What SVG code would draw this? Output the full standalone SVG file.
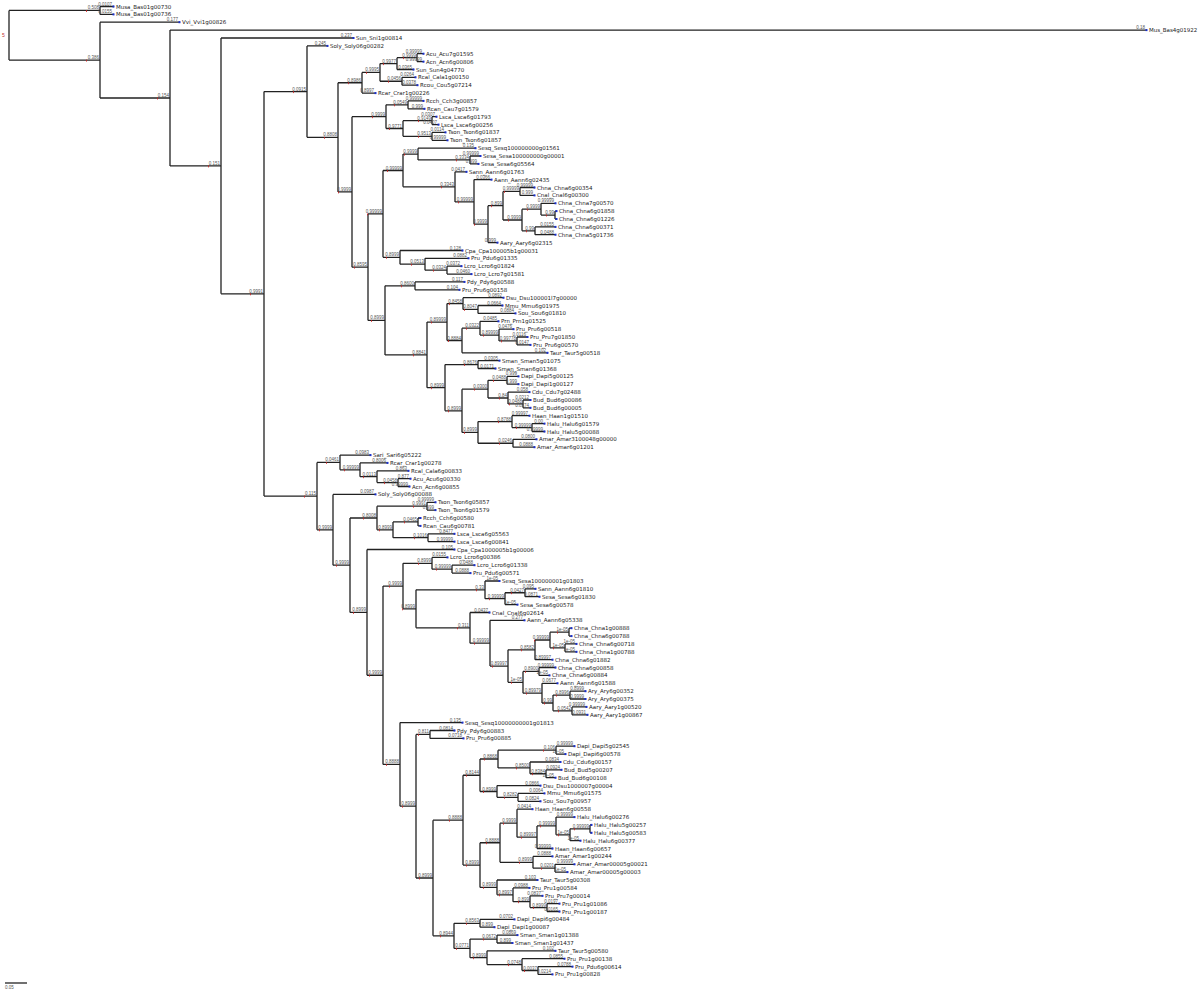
<svg xmlns="http://www.w3.org/2000/svg" width="1200" height="992" viewBox="0 0 1200 992">
<style>
.br{stroke:#222;stroke-width:1.3;fill:none}
.lf{font-family:"DejaVu Sans",sans-serif;font-size:5.5px;fill:#222}
.bl{font-family:"Liberation Sans",sans-serif;font-size:4.5px;fill:#555;text-anchor:end}
.mk{fill:#1a30d0}
.rt{fill:#d02020}
</style>
<rect width="1200" height="992" fill="#fff"/>
<g id="connectors" class="br">
<path d="M9 10.45V60.1"/>
<path d="M9 10.45H100M100 6.5V14.4M100 6.5H114M100 14.4H114"/>
<path d="M9 60.1H100M100 22.2V98M100 22.2H180"/>
<path d="M100 98H170M170 30.1V165.9M170 30.1H1147"/>
<path d="M170 165.9H221M221 38V293.85M221 38H354"/>
<path d="M221 293.85H264M264 91.6V496.1"/>
<path d="M264 91.6H307M307 45.9V137.3M307 45.9H328"/>
<path d="M307 137.3H338M338 82.75V191.9"/>
<path d="M338 82.75H362M362 72.4V93.1M362 93.1H376"/>
<path d="M362 72.4H380M380 63.6V81.25"/>
<path d="M380 63.6H397M397 57.65V69.5M397 69.5H414"/>
<path d="M397 57.65H417M417 53.7V61.6M417 53.7H424M417 61.6H424"/>
<path d="M380 81.25H402M402 77.3V85.2M402 77.3H416M402 85.2H418"/>
<path d="M338 191.9H352M352 116.7V267.15"/>
<path d="M352 116.7H386M386 104.85V128.5"/>
<path d="M386 104.85H408M408 100.9V108.8M408 100.9H424M408 108.8H425"/>
<path d="M386 128.5H403M403 120.65V136.35"/>
<path d="M403 120.65H432M432 116.7V124.6M432 116.7H437M432 124.6H439"/>
<path d="M403 136.35H432M432 132.4V140.3M432 132.4H446M432 140.3H448"/>
<path d="M352 267.15H368M368 213.9V320.4"/>
<path d="M368 213.9H383M383 170.5V257.35"/>
<path d="M383 170.5H403M403 154.1V186.85"/>
<path d="M403 154.1H418M418 148.2V159.95M418 148.2H476"/>
<path d="M418 159.95H470M470 156V163.9M470 156H481M470 163.9H479"/>
<path d="M403 186.85H455M455 171.8V201.9M455 171.8H467"/>
<path d="M455 201.9H474M474 179.6V224.2M474 179.6H492"/>
<path d="M474 224.2H488M488 205.7V242.6M488 242.6H498"/>
<path d="M488 205.7H503M503 191.45V220"/>
<path d="M503 191.45H520M520 187.5V195.4M520 187.5H535M520 195.4H535"/>
<path d="M503 220H522M522 209.2V230.8"/>
<path d="M522 209.2H541M541 203.3V215.05M541 203.3H556"/>
<path d="M541 215.05H555M555 211.1V219M555 211.1H557M555 219H557"/>
<path d="M522 230.8H535M535 226.9V234.7M535 226.9H556M535 234.7H556"/>
<path d="M383 257.35H400M400 250.5V264.2M400 250.5H463"/>
<path d="M400 264.2H425M425 258.3V270.15M425 258.3H469"/>
<path d="M425 270.15H447M447 266.2V274.1M447 266.2H462M447 274.1H472"/>
<path d="M368 320.4H385M385 285.85V354.9"/>
<path d="M385 285.85H415M415 281.9V289.8M415 281.9H465M415 289.8H460"/>
<path d="M385 354.9H427M427 322.05V387.7"/>
<path d="M427 322.05H447M447 303.6V340.5"/>
<path d="M447 303.6H463M463 297.7V309.45M463 297.7H504"/>
<path d="M463 309.45H478M478 305.5V313.4M478 305.5H503M478 313.4H516"/>
<path d="M447 340.5H462M462 328.2V352.8M462 352.8H548"/>
<path d="M462 328.2H480M480 321.3V335.1M480 321.3H499"/>
<path d="M480 335.1H499M499 329.2V340.95M499 329.2H514"/>
<path d="M499 340.95H517M517 337V344.9M517 337H528M517 344.9H531"/>
<path d="M427 387.7H445M445 364.55V410.8"/>
<path d="M445 364.55H478M478 360.6V368.5M478 360.6H500M478 368.5H496"/>
<path d="M445 410.8H462M462 389.15V432.4"/>
<path d="M462 389.15H488M488 380.3V398"/>
<path d="M488 380.3H507M507 376.4V384.2M507 376.4H519M507 384.2H519"/>
<path d="M488 398H508M508 392.1V403.9M508 392.1H530"/>
<path d="M508 403.9H523M523 400V407.8M523 400H531M523 407.8H531"/>
<path d="M462 432.4H478M478 421.6V443.25"/>
<path d="M478 421.6H512M512 415.7V427.55M512 415.7H530"/>
<path d="M512 427.55H532M532 423.6V431.5M532 423.6H545M532 431.5H545"/>
<path d="M478 443.25H513M513 439.3V447.2M513 439.3H537M513 447.2H535"/>
<path d="M264 496.1H317M317 462.45V529.8"/>
<path d="M317 462.45H340M340 455.1V469.8M340 455.1H371"/>
<path d="M340 469.8H360M360 462.9V476.7M360 462.9H388"/>
<path d="M360 476.7H377M377 470.8V482.6M377 470.8H409"/>
<path d="M377 482.6H398M398 478.7V486.5M398 478.7H411M398 486.5H410"/>
<path d="M317 529.8H333M333 494.4V565.2M333 494.4H376"/>
<path d="M333 565.2H350M350 518V612.4"/>
<path d="M350 518H377M377 506.2V529.8"/>
<path d="M377 506.2H427M427 502.3V510.1M427 502.3H436M427 510.1H436"/>
<path d="M377 529.8H393M393 521.95V537.7"/>
<path d="M393 521.95H418M418 518V525.9M418 518H421M418 525.9H421"/>
<path d="M393 537.7H428M428 533.8V541.6M428 533.8H455M428 541.6H455"/>
<path d="M350 612.4H367M367 549.5V675.25M367 549.5H455"/>
<path d="M367 675.25H383M383 586.1V764.4"/>
<path d="M383 586.1H403M403 563.3V608.85"/>
<path d="M403 563.3H432M432 557.4V569.15M432 557.4H448"/>
<path d="M432 569.15H452M452 565.2V573.1M452 565.2H475M452 573.1H471"/>
<path d="M403 608.85H416M416 589.85V627.85"/>
<path d="M416 589.85H485M485 581V598.7M485 581H500"/>
<path d="M485 598.7H505M505 592.75V604.6M505 604.6H518"/>
<path d="M505 592.75H525M525 588.8V596.7M525 588.8H536M525 596.7H540"/>
<path d="M416 627.85H470M470 612.5V643.2M470 612.5H490"/>
<path d="M470 643.2H490M490 620.3V666.1M490 620.3H525"/>
<path d="M490 666.1H508M508 649.85V682.3"/>
<path d="M508 649.85H535M535 640V659.7M535 659.7H553"/>
<path d="M535 640H550M550 632.15V647.85"/>
<path d="M550 632.15H569M569 628.2V636.1M569 628.2H572M569 636.1H572"/>
<path d="M550 647.85H565M565 643.9V651.8M565 643.9H577M565 651.8H577"/>
<path d="M508 682.3H523M523 671.45V693.14"/>
<path d="M523 671.45H539M539 667.5V675.4M539 667.5H556M539 675.4H550"/>
<path d="M523 693.14H542M542 683.3V702.98M542 683.3H558"/>
<path d="M542 702.98H553M553 695.1V710.85"/>
<path d="M553 695.1H570M570 691.2V699M570 691.2H586M570 699H586"/>
<path d="M553 710.85H572M572 706.9V714.8M572 706.9H587M572 714.8H588"/>
<path d="M383 764.4H400M400 722.6V806.2M400 722.6H463"/>
<path d="M400 806.2H416M416 734.45V878"/>
<path d="M416 734.45H430M430 730.5V738.4M430 730.5H455M430 738.4H464"/>
<path d="M416 878H433M433 820.2V935.85"/>
<path d="M433 820.2H463M463 775.25V865.1"/>
<path d="M463 775.25H480M480 759V791.5"/>
<path d="M480 759H498M498 750.15V767.9"/>
<path d="M498 750.15H556M556 746.2V754.1M556 746.2H575M556 754.1H566"/>
<path d="M498 767.9H530M530 762V773.75M530 762H561"/>
<path d="M530 773.75H546M546 769.8V777.7M546 769.8H562M546 777.7H556"/>
<path d="M480 791.5H497M497 785.6V797.35M497 785.6H541"/>
<path d="M497 797.35H518M518 793.4V801.3M518 793.4H545M518 801.3H541"/>
<path d="M463 865.1H480M480 842.75V887.4"/>
<path d="M480 842.75H500M500 823.2V862.3"/>
<path d="M500 823.2H517M517 809.2V837.2M517 809.2H533"/>
<path d="M517 837.2H537M537 825.95V848.5M537 848.5H553"/>
<path d="M537 825.95H556M556 817.1V834.8M556 817.1H575"/>
<path d="M556 834.8H570M570 828.85V840.7M570 840.7H581"/>
<path d="M570 828.85H590M590 824.9V832.8M590 824.9H592M590 832.8H592"/>
<path d="M500 862.3H533M533 856.4V868.2M533 856.4H553"/>
<path d="M533 868.2H555M555 864.3V872.1M555 864.3H575M555 872.1H568"/>
<path d="M480 887.4H497M497 880V894.8M497 880H538"/>
<path d="M497 894.8H513M513 887.9V901.7M513 887.9H530"/>
<path d="M513 901.7H530M530 895.8V907.55M530 895.8H543"/>
<path d="M530 907.55H547M547 903.6V911.5M547 903.6H560M547 911.5H560"/>
<path d="M433 935.85H454M454 923.3V948.4"/>
<path d="M454 923.3H480M480 919.4V927.2M480 919.4H515M480 927.2H495"/>
<path d="M454 948.4H470M470 939.05V957.7"/>
<path d="M470 939.05H497M497 935.1V943M497 935.1H518M497 943H513"/>
<path d="M470 957.7H487M487 950.8V964.6M487 950.8H556"/>
<path d="M487 964.6H522M522 958.7V970.5M522 958.7H565"/>
<path d="M522 970.5H538M538 966.6V974.4M538 966.6H573M538 974.4H553"/>
<path d="M5 983H27"/>
</g>
<g id="internal">
<g id="root"><text x="2" y="37" style="font-family:'Liberation Sans',sans-serif;font-size:5px;fill:#c03030">5</text></g>
<g id="nA"><text class="bl" x="99" y="9.4">0.508</text><rect class="rt" x="86" y="10" width="0.8" height="2"/></g>
<g id="nB"><text class="bl" x="99" y="59.1">0.386</text><rect class="rt" x="86" y="59.6" width="0.8" height="2"/></g>
<g id="nC"><text class="bl" x="169" y="97">0.154</text><rect class="rt" x="157" y="97.5" width="0.8" height="2"/></g>
<g id="nD"><text class="bl" x="220" y="164.9">0.151</text><rect class="rt" x="208" y="165.4" width="0.8" height="2"/></g>
<g id="nE"><text class="bl" x="263" y="292.8">0.9991</text><rect class="rt" x="250" y="293.3" width="0.8" height="2"/></g>
<g id="nF"><text class="bl" x="306" y="90.6">0.0915</text><rect class="rt" x="293" y="91.1" width="0.8" height="2"/></g>
<g id="nF2"><text class="bl" x="337" y="136.3">0.8808</text><rect class="rt" x="324" y="136.8" width="0.8" height="2"/></g>
<g id="nF3"><text class="bl" x="361" y="81.7">0.8986</text><rect class="rt" x="348" y="82.2" width="0.8" height="2"/></g>
<g id="nF5"><text class="bl" x="379" y="71.4">0.9995</text><rect class="rt" x="366" y="71.9" width="0.8" height="2"/></g>
<g id="nF6"><text class="bl" x="396" y="62.6">0.9977</text><rect class="rt" x="383" y="63.1" width="0.8" height="2"/></g>
<g id="nF8"><text class="bl" x="416" y="56.6">0.9999</text><rect class="rt" x="403" y="57.1" width="0.8" height="2"/></g>
<g id="nF7"><text class="bl" x="401" y="80.2">0.0456</text><rect class="rt" x="388" y="80.7" width="0.8" height="2"/></g>
<g id="nF4"><text class="bl" x="351" y="190.9">0.9999</text><rect class="rt" x="338" y="191.4" width="0.8" height="2"/></g>
<g id="nF9"><text class="bl" x="385" y="115.7">0.9999</text><rect class="rt" x="372" y="116.2" width="0.8" height="2"/></g>
<g id="nF10"><text class="bl" x="407" y="103.8">0.0549</text><rect class="rt" x="394" y="104.3" width="0.8" height="2"/></g>
<g id="nF11"><text class="bl" x="402" y="127.5">0.9771</text><rect class="rt" x="389" y="128" width="0.8" height="2"/></g>
<g id="nF12"><text class="bl" x="431" y="119.6">0.9149</text><rect class="rt" x="418" y="120.1" width="0.8" height="2"/></g>
<g id="nF13"><text class="bl" x="431" y="135.3">0.9513</text><rect class="rt" x="418" y="135.8" width="0.8" height="2"/></g>
<g id="nF14"><text class="bl" x="367" y="266.1">0.8595</text><rect class="rt" x="354" y="266.6" width="0.8" height="2"/></g>
<g id="nF15"><text class="bl" x="382" y="212.9">0.99999</text><rect class="rt" x="367" y="213.4" width="0.8" height="2"/></g>
<g id="nF17"><text class="bl" x="402" y="169.5">0.99999</text><rect class="rt" x="387" y="170" width="0.8" height="2"/></g>
<g id="nF19"><text class="bl" x="417" y="153.1">0.9999</text><rect class="rt" x="404" y="153.6" width="0.8" height="2"/></g>
<g id="nF20"><text class="bl" x="469" y="158.9">0.3334</text><rect class="rt" x="456" y="159.4" width="0.8" height="2"/></g>
<g id="nF21"><text class="bl" x="454" y="185.8">0.3343</text><rect class="rt" x="441" y="186.3" width="0.8" height="2"/></g>
<g id="nF22"><text class="bl" x="473" y="200.9">0.99999</text><rect class="rt" x="458" y="201.4" width="0.8" height="2"/></g>
<g id="nF23"><text class="bl" x="487" y="223.2">0.9999</text><rect class="rt" x="474" y="223.7" width="0.8" height="2"/></g>
<g id="nF24"><text class="bl" x="502" y="204.7">0.899</text><rect class="rt" x="491" y="205.2" width="0.8" height="2"/></g>
<g id="nF25"><text class="bl" x="519" y="190.4">0.99999</text><rect class="rt" x="504" y="190.9" width="0.8" height="2"/></g>
<g id="nF26"><text class="bl" x="521" y="219">0.9999</text><rect class="rt" x="508" y="219.5" width="0.8" height="2"/></g>
<g id="nF27"><text class="bl" x="540" y="208.2">0.9999</text><rect class="rt" x="527" y="208.7" width="0.8" height="2"/></g>
<g id="nF29"><text class="bl" x="554" y="214">0.99</text><rect class="rt" x="546" y="214.5" width="0.8" height="2"/></g>
<g id="nF28"><text class="bl" x="534" y="229.8">0.99</text><rect class="rt" x="526" y="230.3" width="0.8" height="2"/></g>
<g id="nF18"><text class="bl" x="399" y="256.3">0.8999</text><rect class="rt" x="386" y="256.8" width="0.8" height="2"/></g>
<g id="nF30"><text class="bl" x="424" y="263.2">0.0513</text><rect class="rt" x="411" y="263.7" width="0.8" height="2"/></g>
<g id="nF30b"><text class="bl" x="446" y="269.1">0.0324</text><rect class="rt" x="433" y="269.6" width="0.8" height="2"/></g>
<g id="nF16"><text class="bl" x="384" y="319.4">0.8999</text><rect class="rt" x="371" y="319.9" width="0.8" height="2"/></g>
<g id="nF31"><text class="bl" x="414" y="284.8">0.8600</text><rect class="rt" x="401" y="285.3" width="0.8" height="2"/></g>
<g id="nF32"><text class="bl" x="426" y="353.9">0.8841</text><rect class="rt" x="413" y="354.4" width="0.8" height="2"/></g>
<g id="nF33"><text class="bl" x="446" y="321">0.89999</text><rect class="rt" x="431" y="321.5" width="0.8" height="2"/></g>
<g id="nF35"><text class="bl" x="462" y="302.6">0.8458</text><rect class="rt" x="449" y="303.1" width="0.8" height="2"/></g>
<g id="nF34"><text class="bl" x="477" y="308.4">0.8047</text><rect class="rt" x="464" y="308.9" width="0.8" height="2"/></g>
<g id="nF39"><text class="bl" x="461" y="339.5">0.8884</text><rect class="rt" x="448" y="340" width="0.8" height="2"/></g>
<g id="nF38"><text class="bl" x="479" y="327.2">0.0322</text><rect class="rt" x="466" y="327.7" width="0.8" height="2"/></g>
<g id="nF37"><text class="bl" x="498" y="334.1">0.89999</text><rect class="rt" x="483" y="334.6" width="0.8" height="2"/></g>
<g id="nF36"><text class="bl" x="516" y="339.9">0.99778</text><rect class="rt" x="501" y="340.4" width="0.8" height="2"/></g>
<g id="nF50"><text class="bl" x="444" y="386.7">0.8999</text><rect class="rt" x="431" y="387.2" width="0.8" height="2"/></g>
<g id="nF40"><text class="bl" x="477" y="363.5">0.8676</text><rect class="rt" x="464" y="364" width="0.8" height="2"/></g>
<g id="nF49"><text class="bl" x="461" y="409.8">0.8999</text><rect class="rt" x="448" y="410.3" width="0.8" height="2"/></g>
<g id="nF44"><text class="bl" x="487" y="388.1">0.0300</text><rect class="rt" x="474" y="388.6" width="0.8" height="2"/></g>
<g id="nF43"><text class="bl" x="506" y="379.3">0.0488</text><rect class="rt" x="493" y="379.8" width="0.8" height="2"/></g>
<g id="nF42"><text class="bl" x="507" y="397">0.84</text><rect class="rt" x="499" y="397.5" width="0.8" height="2"/></g>
<g id="nF41"><text class="bl" x="522" y="402.9">0.0488</text><rect class="rt" x="509" y="403.4" width="0.8" height="2"/></g>
<g id="nF48"><text class="bl" x="477" y="431.4">0.8999</text><rect class="rt" x="464" y="431.9" width="0.8" height="2"/></g>
<g id="nF46"><text class="bl" x="511" y="420.6">0.8788</text><rect class="rt" x="498" y="421.1" width="0.8" height="2"/></g>
<g id="nF45"><text class="bl" x="531" y="426.5">0.99999</text><rect class="rt" x="516" y="427" width="0.8" height="2"/></g>
<g id="nF47"><text class="bl" x="512" y="442.2">0.0246</text><rect class="rt" x="499" y="442.7" width="0.8" height="2"/></g>
<g id="nG"><text class="bl" x="316" y="495.1">0.115</text><rect class="rt" x="304" y="495.6" width="0.8" height="2"/></g>
<g id="nF54"><text class="bl" x="339" y="461.4">0.0461</text><rect class="rt" x="326" y="461.9" width="0.8" height="2"/></g>
<g id="nF53"><text class="bl" x="359" y="468.8">0.99999</text><rect class="rt" x="344" y="469.3" width="0.8" height="2"/></g>
<g id="nF52"><text class="bl" x="376" y="475.7">0.0113</text><rect class="rt" x="363" y="476.2" width="0.8" height="2"/></g>
<g id="nF51"><text class="bl" x="397" y="481.6">0.0458</text><rect class="rt" x="384" y="482.1" width="0.8" height="2"/></g>
<g id="nG2"><text class="bl" x="332" y="528.8">0.9999</text><rect class="rt" x="319" y="529.3" width="0.8" height="2"/></g>
<g id="nG3"><text class="bl" x="349" y="564.2">0.9999</text><rect class="rt" x="336" y="564.7" width="0.8" height="2"/></g>
<g id="nF59"><text class="bl" x="376" y="517">0.8008</text><rect class="rt" x="363" y="517.5" width="0.8" height="2"/></g>
<g id="nF58"><text class="bl" x="426" y="505.2">0.9991</text><rect class="rt" x="413" y="505.7" width="0.8" height="2"/></g>
<g id="nF57"><text class="bl" x="392" y="528.8">0.8999</text><rect class="rt" x="379" y="529.3" width="0.8" height="2"/></g>
<g id="nF55"><text class="bl" x="417" y="520.9">0.0465</text><rect class="rt" x="404" y="521.4" width="0.8" height="2"/></g>
<g id="nF56"><text class="bl" x="427" y="536.7">0.1016</text><rect class="rt" x="414" y="537.2" width="0.8" height="2"/></g>
<g id="nF80"><text class="bl" x="366" y="611.4">0.8999</text><rect class="rt" x="353" y="611.9" width="0.8" height="2"/></g>
<g id="nJ1"><text class="bl" x="382" y="674.2">0.9999</text><rect class="rt" x="369" y="674.7" width="0.8" height="2"/></g>
<g id="nF77"><text class="bl" x="402" y="585.1">0.9999</text><rect class="rt" x="389" y="585.6" width="0.8" height="2"/></g>
<g id="nF78"><text class="bl" x="431" y="562.3">0.8999</text><rect class="rt" x="418" y="562.8" width="0.8" height="2"/></g>
<g id="nF79"><text class="bl" x="451" y="568.1">0.99999</text><rect class="rt" x="436" y="568.6" width="0.8" height="2"/></g>
<g id="nF76"><text class="bl" x="415" y="607.8">0.8999</text><rect class="rt" x="402" y="608.3" width="0.8" height="2"/></g>
<g id="nF62"><text class="bl" x="484" y="588.8">0.33</text><rect class="rt" x="476" y="589.3" width="0.8" height="2"/></g>
<g id="nF61"><text class="bl" x="504" y="597.7">0.99999</text><rect class="rt" x="489" y="598.2" width="0.8" height="2"/></g>
<g id="nF60"><text class="bl" x="524" y="591.7">0.0427</text><rect class="rt" x="511" y="592.2" width="0.8" height="2"/></g>
<g id="nF63"><text class="bl" x="469" y="626.8">0.311</text><rect class="rt" x="457" y="627.3" width="0.8" height="2"/></g>
<g id="nF64"><text class="bl" x="489" y="642.2">0.99999</text><rect class="rt" x="474" y="642.7" width="0.8" height="2"/></g>
<g id="nF75"><text class="bl" x="507" y="665.1">0.89997</text><rect class="rt" x="492" y="665.6" width="0.8" height="2"/></g>
<g id="nF68"><text class="bl" x="534" y="648.8">0.8582</text><rect class="rt" x="521" y="649.3" width="0.8" height="2"/></g>
<g id="nF65"><text class="bl" x="549" y="639">0.99999</text><rect class="rt" x="534" y="639.5" width="0.8" height="2"/></g>
<g id="nF66"><text class="bl" x="568" y="631.1">1e-05</text><rect class="rt" x="557" y="631.6" width="0.8" height="2"/></g>
<g id="nF67"><text class="bl" x="564" y="646.8">1e-05</text><rect class="rt" x="553" y="647.3" width="0.8" height="2"/></g>
<g id="nF74"><text class="bl" x="522" y="681.3">1e-05</text><rect class="rt" x="511" y="681.8" width="0.8" height="2"/></g>
<g id="nF69"><text class="bl" x="538" y="670.4">0.8900</text><rect class="rt" x="525" y="670.9" width="0.8" height="2"/></g>
<g id="nF73"><text class="bl" x="541" y="692.1">0.89979</text><rect class="rt" x="526" y="692.6" width="0.8" height="2"/></g>
<g id="nF72"><text class="bl" x="552" y="702">0.99</text><rect class="rt" x="544" y="702.5" width="0.8" height="2"/></g>
<g id="nF70"><text class="bl" x="569" y="694.1">0.8996</text><rect class="rt" x="556" y="694.6" width="0.8" height="2"/></g>
<g id="nF71"><text class="bl" x="571" y="709.8">0.0542</text><rect class="rt" x="558" y="710.3" width="0.8" height="2"/></g>
<g id="nH1"><text class="bl" x="399" y="763.4">0.8888</text><rect class="rt" x="386" y="763.9" width="0.8" height="2"/></g>
<g id="nH2"><text class="bl" x="415" y="805.2">0.8999</text><rect class="rt" x="402" y="805.7" width="0.8" height="2"/></g>
<g id="nF81"><text class="bl" x="429" y="733.4">0.811</text><rect class="rt" x="418" y="733.9" width="0.8" height="2"/></g>
<g id="nH3"><text class="bl" x="432" y="877">0.8999</text><rect class="rt" x="419" y="877.5" width="0.8" height="2"/></g>
<g id="nH4"><text class="bl" x="462" y="819.2">0.8888</text><rect class="rt" x="449" y="819.7" width="0.8" height="2"/></g>
<g id="nF89"><text class="bl" x="479" y="774.2">0.8144</text><rect class="rt" x="466" y="774.7" width="0.8" height="2"/></g>
<g id="nF86"><text class="bl" x="497" y="758">0.8868</text><rect class="rt" x="484" y="758.5" width="0.8" height="2"/></g>
<g id="nF85"><text class="bl" x="555" y="749.1">0.106</text><rect class="rt" x="543" y="749.6" width="0.8" height="2"/></g>
<g id="nF84"><text class="bl" x="529" y="766.9">0.8500</text><rect class="rt" x="516" y="767.4" width="0.8" height="2"/></g>
<g id="nF83"><text class="bl" x="545" y="772.7">0.8384</text><rect class="rt" x="532" y="773.2" width="0.8" height="2"/></g>
<g id="nF88"><text class="bl" x="496" y="790.5">0.8999</text><rect class="rt" x="483" y="791" width="0.8" height="2"/></g>
<g id="nF87"><text class="bl" x="517" y="796.3">0.8282</text><rect class="rt" x="504" y="796.8" width="0.8" height="2"/></g>
<g id="nI9"><text class="bl" x="479" y="864.1">0.8999</text><rect class="rt" x="466" y="864.6" width="0.8" height="2"/></g>
<g id="nI6"><text class="bl" x="499" y="841.7">0.8888</text><rect class="rt" x="486" y="842.2" width="0.8" height="2"/></g>
<g id="nI1"><text class="bl" x="516" y="822.2">0.9999</text><rect class="rt" x="503" y="822.7" width="0.8" height="2"/></g>
<g id="nI5"><text class="bl" x="536" y="836.2">0.89997</text><rect class="rt" x="521" y="836.7" width="0.8" height="2"/></g>
<g id="nI4"><text class="bl" x="555" y="824.9">0.99999</text><rect class="rt" x="540" y="825.4" width="0.8" height="2"/></g>
<g id="nI3"><text class="bl" x="569" y="833.8">1e-05</text><rect class="rt" x="558" y="834.3" width="0.8" height="2"/></g>
<g id="nI2"><text class="bl" x="589" y="827.8">0.99999</text><rect class="rt" x="574" y="828.3" width="0.8" height="2"/></g>
<g id="nI8"><text class="bl" x="532" y="861.3">0.8999</text><rect class="rt" x="519" y="861.8" width="0.8" height="2"/></g>
<g id="nI7"><text class="bl" x="554" y="867.2">0.0201</text><rect class="rt" x="541" y="867.7" width="0.8" height="2"/></g>
<g id="nI14"><text class="bl" x="496" y="886.4">0.8999</text><rect class="rt" x="483" y="886.9" width="0.8" height="2"/></g>
<g id="nI10"><text class="bl" x="512" y="893.8">0.8997</text><rect class="rt" x="499" y="894.3" width="0.8" height="2"/></g>
<g id="nI13"><text class="bl" x="529" y="900.7">0.899</text><rect class="rt" x="518" y="901.2" width="0.8" height="2"/></g>
<g id="nI12"><text class="bl" x="546" y="906.5">0.8999</text><rect class="rt" x="533" y="907" width="0.8" height="2"/></g>
<g id="nI21"><text class="bl" x="453" y="934.8">0.8944</text><rect class="rt" x="440" y="935.3" width="0.8" height="2"/></g>
<g id="nI15"><text class="bl" x="479" y="922.3">0.8563</text><rect class="rt" x="466" y="922.8" width="0.8" height="2"/></g>
<g id="nI20"><text class="bl" x="469" y="947.4">0.0771</text><rect class="rt" x="456" y="947.9" width="0.8" height="2"/></g>
<g id="nI16"><text class="bl" x="496" y="938">0.0672</text><rect class="rt" x="483" y="938.5" width="0.8" height="2"/></g>
<g id="nI19"><text class="bl" x="486" y="956.7">0.8999</text><rect class="rt" x="473" y="957.2" width="0.8" height="2"/></g>
<g id="nI18"><text class="bl" x="521" y="963.6">0.0748</text><rect class="rt" x="508" y="964.1" width="0.8" height="2"/></g>
<g id="nI17"><text class="bl" x="537" y="969.5">0.0037</text><rect class="rt" x="524" y="970" width="0.8" height="2"/></g>
</g>
<g id="leaves">
<g id="L1"><text class="bl" x="112" y="5.5">0.0107</text><rect class="mk" x="112.5" y="5.5" width="2" height="2"/><text class="lf" x="116" y="8.5">Musa_Bas01g00730</text></g>
<g id="L2"><text class="bl" x="112" y="13.4">0.0155</text><rect class="mk" x="112.5" y="13.4" width="2" height="2"/><text class="lf" x="116" y="16.4">Musa_Bas01g00736</text></g>
<g id="L3"><text class="bl" x="178" y="21.2">0.177</text><rect class="mk" x="178.5" y="21.2" width="2" height="2"/><text class="lf" x="182" y="24.2">Vvi_Vvi1g00826</text></g>
<g id="L4"><text class="bl" x="1145" y="29.1">0.18</text><rect class="mk" x="1145.5" y="29.1" width="2" height="2"/><text class="lf" x="1149" y="32.1">Mus_Bas4g01922</text></g>
<g id="L5"><text class="bl" x="352" y="37">0.237</text><rect class="mk" x="352.5" y="37" width="2" height="2"/><text class="lf" x="356" y="40">Sun_Sni1g00814</text></g>
<g id="L6"><text class="bl" x="326" y="44.9">0.245</text><rect class="mk" x="326.5" y="44.9" width="2" height="2"/><text class="lf" x="330" y="47.9">Soly_Soly06g00282</text></g>
<g id="L7"><text class="bl" x="422" y="52.7">0.99999</text><rect class="mk" x="422.5" y="52.7" width="2" height="2"/><text class="lf" x="426" y="55.7">Acu_Acu7g01595</text></g>
<g id="L8"><text class="bl" x="422" y="60.6">0.99999</text><rect class="mk" x="422.5" y="60.6" width="2" height="2"/><text class="lf" x="426" y="63.6">Acn_Acn6g00806</text></g>
<g id="L9"><text class="bl" x="412" y="68.5">0.0365</text><rect class="mk" x="412.5" y="68.5" width="2" height="2"/><text class="lf" x="416" y="71.5">Sun_Sun4g04770</text></g>
<g id="L10"><text class="bl" x="414" y="76.3">0.0264</text><rect class="mk" x="414.5" y="76.3" width="2" height="2"/><text class="lf" x="418" y="79.3">Rcal_Cala1g00150</text></g>
<g id="L11"><text class="bl" x="416" y="84.2">0.0378</text><rect class="mk" x="416.5" y="84.2" width="2" height="2"/><text class="lf" x="420" y="87.2">Rcou_Cou5g07214</text></g>
<g id="L12"><text class="bl" x="374" y="92.1">0.8997</text><rect class="mk" x="374.5" y="92.1" width="2" height="2"/><text class="lf" x="378" y="95.1">Rcar_Crar1g00226</text></g>
<g id="L13"><text class="bl" x="422" y="99.9">0.99999</text><rect class="mk" x="422.5" y="99.9" width="2" height="2"/><text class="lf" x="426" y="102.9">Rcch_Cch3g00857</text></g>
<g id="L14"><text class="bl" x="423" y="107.8">0.999</text><rect class="mk" x="423.5" y="107.8" width="2" height="2"/><text class="lf" x="427" y="110.8">Rcan_Cau7g01579</text></g>
<g id="L15"><text class="bl" x="435" y="115.7">0.0307</text><rect class="mk" x="435.5" y="115.7" width="2" height="2"/><text class="lf" x="439" y="118.7">Lsca_Lsca6g01793</text></g>
<g id="L16"><text class="bl" x="437" y="123.6">0.0407</text><rect class="mk" x="437.5" y="123.6" width="2" height="2"/><text class="lf" x="441" y="126.6">Lsca_Lsca6g00256</text></g>
<g id="L17"><text class="bl" x="444" y="131.4">0.0114</text><rect class="mk" x="444.5" y="131.4" width="2" height="2"/><text class="lf" x="448" y="134.4">Tson_Tson6g01837</text></g>
<g id="L18"><text class="bl" x="446" y="139.3">0.99999</text><rect class="mk" x="446.5" y="139.3" width="2" height="2"/><text class="lf" x="450" y="142.3">Tson_Tson6g01857</text></g>
<g id="L19"><text class="bl" x="474" y="147.2">0.135</text><rect class="mk" x="474.5" y="147.2" width="2" height="2"/><text class="lf" x="478" y="150.2">Sesq_Sesq100000000g01561</text></g>
<g id="L20"><text class="bl" x="479" y="155">0.99999</text><rect class="mk" x="479.5" y="155" width="2" height="2"/><text class="lf" x="483" y="158">Sesa_Sesa100000000g00001</text></g>
<g id="L21"><text class="bl" x="477" y="162.9">0.999</text><rect class="mk" x="477.5" y="162.9" width="2" height="2"/><text class="lf" x="481" y="165.9">Sesa_Sesa6g05564</text></g>
<g id="L22"><text class="bl" x="465" y="170.8">0.0417</text><rect class="mk" x="465.5" y="170.8" width="2" height="2"/><text class="lf" x="469" y="173.8">Sann_Aann6g01763</text></g>
<g id="L23"><text class="bl" x="490" y="178.6">0.0366</text><rect class="mk" x="490.5" y="178.6" width="2" height="2"/><text class="lf" x="494" y="181.6">Aann_Aann6g02435</text></g>
<g id="L24"><text class="bl" x="533" y="186.5">0.99999</text><rect class="mk" x="533.5" y="186.5" width="2" height="2"/><text class="lf" x="537" y="189.5">Chna_Chna6g00354</text></g>
<g id="L25"><text class="bl" x="533" y="194.4">0.999</text><rect class="mk" x="533.5" y="194.4" width="2" height="2"/><text class="lf" x="537" y="197.4">Cnal_Cnal6g00300</text></g>
<g id="L26"><text class="bl" x="554" y="202.3">0.99999</text><rect class="mk" x="554.5" y="202.3" width="2" height="2"/><text class="lf" x="558" y="205.3">Chna_Chna7g00570</text></g>
<g id="L27"><rect class="mk" x="555.5" y="210.1" width="2" height="2"/><text class="lf" x="559" y="213.1">Chna_Chna6g01858</text></g>
<g id="L28"><rect class="mk" x="555.5" y="218" width="2" height="2"/><text class="lf" x="559" y="221">Chna_Chna6g01226</text></g>
<g id="L29"><text class="bl" x="554" y="225.9">0.0155</text><rect class="mk" x="554.5" y="225.9" width="2" height="2"/><text class="lf" x="558" y="228.9">Chna_Chna6g00371</text></g>
<g id="L30"><text class="bl" x="554" y="233.7">0.0488</text><rect class="mk" x="554.5" y="233.7" width="2" height="2"/><text class="lf" x="558" y="236.7">Chna_Chna5g01736</text></g>
<g id="L31"><text class="bl" x="496" y="241.6">0.999</text><rect class="mk" x="496.5" y="241.6" width="2" height="2"/><text class="lf" x="500" y="244.6">Aary_Aary6g02315</text></g>
<g id="L32"><text class="bl" x="461" y="249.5">0.128</text><rect class="mk" x="461.5" y="249.5" width="2" height="2"/><text class="lf" x="465" y="252.5">Cpa_Cpa100005b1g00031</text></g>
<g id="L33"><text class="bl" x="467" y="257.3">0.0882</text><rect class="mk" x="467.5" y="257.3" width="2" height="2"/><text class="lf" x="471" y="260.3">Pru_Pdu6g01335</text></g>
<g id="L34"><text class="bl" x="460" y="265.2">0.0372</text><rect class="mk" x="460.5" y="265.2" width="2" height="2"/><text class="lf" x="464" y="268.2">Lcro_Lcro6g01824</text></g>
<g id="L35"><text class="bl" x="470" y="273.1">0.0460</text><rect class="mk" x="470.5" y="273.1" width="2" height="2"/><text class="lf" x="474" y="276.1">Lcro_Lcro7g01581</text></g>
<g id="L36"><text class="bl" x="463" y="280.9">0.117</text><rect class="mk" x="463.5" y="280.9" width="2" height="2"/><text class="lf" x="467" y="283.9">Pdy_Pdy6g00588</text></g>
<g id="L37"><text class="bl" x="458" y="288.8">0.104</text><rect class="mk" x="458.5" y="288.8" width="2" height="2"/><text class="lf" x="462" y="291.8">Pru_Pru6g00158</text></g>
<g id="L38"><text class="bl" x="502" y="296.7">0.0892</text><rect class="mk" x="502.5" y="296.7" width="2" height="2"/><text class="lf" x="506" y="299.7">Dsu_Dsu100001l7g00000</text></g>
<g id="L39"><text class="bl" x="501" y="304.5">0.0664</text><rect class="mk" x="501.5" y="304.5" width="2" height="2"/><text class="lf" x="505" y="307.5">Mmu_Mmu6g01975</text></g>
<g id="L40"><text class="bl" x="514" y="312.4">0.0884</text><rect class="mk" x="514.5" y="312.4" width="2" height="2"/><text class="lf" x="518" y="315.4">Sou_Sou6g01810</text></g>
<g id="L41"><text class="bl" x="497" y="320.3">0.0485</text><rect class="mk" x="497.5" y="320.3" width="2" height="2"/><text class="lf" x="501" y="323.3">Prn_Prn1g01525</text></g>
<g id="L42"><text class="bl" x="512" y="328.2">0.0476</text><rect class="mk" x="512.5" y="328.2" width="2" height="2"/><text class="lf" x="516" y="331.2">Pru_Pru6g00518</text></g>
<g id="L43"><text class="bl" x="526" y="336">0.0116</text><rect class="mk" x="526.5" y="336" width="2" height="2"/><text class="lf" x="530" y="339">Pru_Pru7g01850</text></g>
<g id="L44"><text class="bl" x="529" y="343.9">0.0147</text><rect class="mk" x="529.5" y="343.9" width="2" height="2"/><text class="lf" x="533" y="346.9">Pru_Pru6g00570</text></g>
<g id="L45"><text class="bl" x="546" y="351.8">0.102</text><rect class="mk" x="546.5" y="351.8" width="2" height="2"/><text class="lf" x="550" y="354.8">Taur_Taur5g00518</text></g>
<g id="L46"><text class="bl" x="498" y="359.6">0.0305</text><rect class="mk" x="498.5" y="359.6" width="2" height="2"/><text class="lf" x="502" y="362.6">Sman_Sman5g01075</text></g>
<g id="L47"><text class="bl" x="494" y="367.5">0.0171</text><rect class="mk" x="494.5" y="367.5" width="2" height="2"/><text class="lf" x="498" y="370.5">Sman_Sman6g01368</text></g>
<g id="L48"><text class="bl" x="517" y="375.4">0.999</text><rect class="mk" x="517.5" y="375.4" width="2" height="2"/><text class="lf" x="521" y="378.4">Dapi_Dapi5g00125</text></g>
<g id="L49"><text class="bl" x="517" y="383.2">0.999</text><rect class="mk" x="517.5" y="383.2" width="2" height="2"/><text class="lf" x="521" y="386.2">Dapi_Dapi1g00127</text></g>
<g id="L50"><text class="bl" x="528" y="391.1">0.058</text><rect class="mk" x="528.5" y="391.1" width="2" height="2"/><text class="lf" x="532" y="394.1">Cdu_Cdu7g02488</text></g>
<g id="L51"><text class="bl" x="529" y="399">0.0212</text><rect class="mk" x="529.5" y="399" width="2" height="2"/><text class="lf" x="533" y="402">Bud_Bud6g00086</text></g>
<g id="L52"><text class="bl" x="529" y="406.8">0.0274</text><rect class="mk" x="529.5" y="406.8" width="2" height="2"/><text class="lf" x="533" y="409.8">Bud_Bud6g00005</text></g>
<g id="L53"><text class="bl" x="528" y="414.7">0.99997</text><rect class="mk" x="528.5" y="414.7" width="2" height="2"/><text class="lf" x="532" y="417.7">Haan_Haan1g01510</text></g>
<g id="L54"><text class="bl" x="543" y="422.6">0.00</text><rect class="mk" x="543.5" y="422.6" width="2" height="2"/><text class="lf" x="547" y="425.6">Halu_Halu6g01579</text></g>
<g id="L55"><text class="bl" x="543" y="430.5">0.99999</text><rect class="mk" x="543.5" y="430.5" width="2" height="2"/><text class="lf" x="547" y="433.5">Halu_Halu5g00088</text></g>
<g id="L56"><text class="bl" x="535" y="438.3">0.0800</text><rect class="mk" x="535.5" y="438.3" width="2" height="2"/><text class="lf" x="539" y="441.3">Amar_Amar3100048g00000</text></g>
<g id="L57"><text class="bl" x="533" y="446.2">0.0888</text><rect class="mk" x="533.5" y="446.2" width="2" height="2"/><text class="lf" x="537" y="449.2">Amar_Amar6g01201</text></g>
<g id="L58"><text class="bl" x="369" y="454.1">0.0983</text><rect class="mk" x="369.5" y="454.1" width="2" height="2"/><text class="lf" x="373" y="457.1">Sari_Sari6g05222</text></g>
<g id="L59"><text class="bl" x="386" y="461.9">0.8006</text><rect class="mk" x="386.5" y="461.9" width="2" height="2"/><text class="lf" x="390" y="464.9">Rcar_Crar1g00278</text></g>
<g id="L60"><text class="bl" x="407" y="469.8">0.863</text><rect class="mk" x="407.5" y="469.8" width="2" height="2"/><text class="lf" x="411" y="472.8">Rcal_Cala6g00833</text></g>
<g id="L61"><text class="bl" x="409" y="477.7">0.877</text><rect class="mk" x="409.5" y="477.7" width="2" height="2"/><text class="lf" x="413" y="480.7">Acu_Acu6g00330</text></g>
<g id="L62"><text class="bl" x="408" y="485.5">0.99999</text><rect class="mk" x="408.5" y="485.5" width="2" height="2"/><text class="lf" x="412" y="488.5">Acn_Acn6g00855</text></g>
<g id="L63"><text class="bl" x="374" y="493.4">0.0987</text><rect class="mk" x="374.5" y="493.4" width="2" height="2"/><text class="lf" x="378" y="496.4">Soly_Soly06g00088</text></g>
<g id="L64"><text class="bl" x="434" y="501.3">0.99999</text><rect class="mk" x="434.5" y="501.3" width="2" height="2"/><text class="lf" x="438" y="504.3">Tson_Tson6g05857</text></g>
<g id="L65"><text class="bl" x="434" y="509.1">0.999</text><rect class="mk" x="434.5" y="509.1" width="2" height="2"/><text class="lf" x="438" y="512.1">Tson_Tson6g01579</text></g>
<g id="L66"><rect class="mk" x="419.5" y="517" width="2" height="2"/><text class="lf" x="423" y="520">Rcch_Cch6g00580</text></g>
<g id="L67"><rect class="mk" x="419.5" y="524.9" width="2" height="2"/><text class="lf" x="423" y="527.9">Rcan_Cau6g00781</text></g>
<g id="L68"><text class="bl" x="453" y="532.8">0.8477</text><rect class="mk" x="453.5" y="532.8" width="2" height="2"/><text class="lf" x="457" y="535.8">Lsca_Lsca6g05563</text></g>
<g id="L69"><text class="bl" x="453" y="540.6">0.99999</text><rect class="mk" x="453.5" y="540.6" width="2" height="2"/><text class="lf" x="457" y="543.6">Lsca_Lsca6g00841</text></g>
<g id="L70"><text class="bl" x="453" y="548.5">0.105</text><rect class="mk" x="453.5" y="548.5" width="2" height="2"/><text class="lf" x="457" y="551.5">Cpa_Cpa1000005b1g00006</text></g>
<g id="L71"><text class="bl" x="446" y="556.4">0.0155</text><rect class="mk" x="446.5" y="556.4" width="2" height="2"/><text class="lf" x="450" y="559.4">Lcro_Lcro6g00386</text></g>
<g id="L72"><text class="bl" x="473" y="564.2">0.0488</text><rect class="mk" x="473.5" y="564.2" width="2" height="2"/><text class="lf" x="477" y="567.2">Lcro_Lcro6g01338</text></g>
<g id="L73"><text class="bl" x="469" y="572.1">0.0888</text><rect class="mk" x="469.5" y="572.1" width="2" height="2"/><text class="lf" x="473" y="575.1">Pru_Pdu6g00571</text></g>
<g id="L74"><text class="bl" x="498" y="580">1e-05</text><rect class="mk" x="498.5" y="580" width="2" height="2"/><text class="lf" x="502" y="583">Sesq_Sesa100000001g01803</text></g>
<g id="L75"><text class="bl" x="534" y="587.8">0.095</text><rect class="mk" x="534.5" y="587.8" width="2" height="2"/><text class="lf" x="538" y="590.8">Sann_Aann6g01810</text></g>
<g id="L76"><text class="bl" x="538" y="595.7">0.0871</text><rect class="mk" x="538.5" y="595.7" width="2" height="2"/><text class="lf" x="542" y="598.7">Sesa_Sesa6g01830</text></g>
<g id="L77"><text class="bl" x="516" y="603.6">1e-05</text><rect class="mk" x="516.5" y="603.6" width="2" height="2"/><text class="lf" x="520" y="606.6">Sesa_Sesa6g00578</text></g>
<g id="L78"><text class="bl" x="488" y="611.5">0.0437</text><rect class="mk" x="488.5" y="611.5" width="2" height="2"/><text class="lf" x="492" y="614.5">Cnal_Cnal6g02614</text></g>
<g id="L79"><text class="bl" x="523" y="619.3">0.277</text><rect class="mk" x="523.5" y="619.3" width="2" height="2"/><text class="lf" x="527" y="622.3">Aann_Aann6g05338</text></g>
<g id="L80"><rect class="mk" x="570.5" y="627.2" width="2" height="2"/><text class="lf" x="574" y="630.2">Chna_Chna1g00888</text></g>
<g id="L81"><rect class="mk" x="570.5" y="635.1" width="2" height="2"/><text class="lf" x="574" y="638.1">Chna_Chna6g00788</text></g>
<g id="L82"><text class="bl" x="575" y="642.9">1e-05</text><rect class="mk" x="575.5" y="642.9" width="2" height="2"/><text class="lf" x="579" y="645.9">Chna_Chna6g00718</text></g>
<g id="L83"><text class="bl" x="575" y="650.8">1e-05</text><rect class="mk" x="575.5" y="650.8" width="2" height="2"/><text class="lf" x="579" y="653.8">Chna_Chna1g00788</text></g>
<g id="L84"><text class="bl" x="551" y="658.7">0.89997</text><rect class="mk" x="551.5" y="658.7" width="2" height="2"/><text class="lf" x="555" y="661.7">Chna_Chna6g01882</text></g>
<g id="L85"><text class="bl" x="554" y="666.5">0.99999</text><rect class="mk" x="554.5" y="666.5" width="2" height="2"/><text class="lf" x="558" y="669.5">Chna_Chna6g00858</text></g>
<g id="L86"><text class="bl" x="548" y="674.4">1e-05</text><rect class="mk" x="548.5" y="674.4" width="2" height="2"/><text class="lf" x="552" y="677.4">Chna_Chna6g00884</text></g>
<g id="L87"><text class="bl" x="556" y="682.3">0.0677</text><rect class="mk" x="556.5" y="682.3" width="2" height="2"/><text class="lf" x="560" y="685.3">Aann_Aann6g01588</text></g>
<g id="L88"><text class="bl" x="584" y="690.2">0.8999</text><rect class="mk" x="584.5" y="690.2" width="2" height="2"/><text class="lf" x="588" y="693.2">Ary_Ary6g00352</text></g>
<g id="L89"><text class="bl" x="584" y="698">0.9999</text><rect class="mk" x="584.5" y="698" width="2" height="2"/><text class="lf" x="588" y="701">Ary_Ary6g00375</text></g>
<g id="L90"><text class="bl" x="585" y="705.9">0.99999</text><rect class="mk" x="585.5" y="705.9" width="2" height="2"/><text class="lf" x="589" y="708.9">Aary_Aary1g00520</text></g>
<g id="L91"><text class="bl" x="586" y="713.8">0.0931</text><rect class="mk" x="586.5" y="713.8" width="2" height="2"/><text class="lf" x="590" y="716.8">Aary_Aary1g00867</text></g>
<g id="L92"><text class="bl" x="461" y="721.6">0.135</text><rect class="mk" x="461.5" y="721.6" width="2" height="2"/><text class="lf" x="465" y="724.6">Sesq_Sesq10000000001g01813</text></g>
<g id="L93"><text class="bl" x="453" y="729.5">0.0814</text><rect class="mk" x="453.5" y="729.5" width="2" height="2"/><text class="lf" x="457" y="732.5">Pdy_Pdy6g00883</text></g>
<g id="L94"><text class="bl" x="462" y="737.4">0.0718</text><rect class="mk" x="462.5" y="737.4" width="2" height="2"/><text class="lf" x="466" y="740.4">Pru_Pru6g00885</text></g>
<g id="L95"><text class="bl" x="573" y="745.2">0.99999</text><rect class="mk" x="573.5" y="745.2" width="2" height="2"/><text class="lf" x="577" y="748.2">Dapi_Dapi5g02545</text></g>
<g id="L96"><text class="bl" x="564" y="753.1">1e-05</text><rect class="mk" x="564.5" y="753.1" width="2" height="2"/><text class="lf" x="568" y="756.1">Dapi_Dapi6g00578</text></g>
<g id="L97"><text class="bl" x="559" y="761">0.0834</text><rect class="mk" x="559.5" y="761" width="2" height="2"/><text class="lf" x="563" y="764">Cdu_Cdu6g00157</text></g>
<g id="L98"><text class="bl" x="560" y="768.8">0.0924</text><rect class="mk" x="560.5" y="768.8" width="2" height="2"/><text class="lf" x="564" y="771.8">Bud_Bud5g00207</text></g>
<g id="L99"><text class="bl" x="554" y="776.7">1e-05</text><rect class="mk" x="554.5" y="776.7" width="2" height="2"/><text class="lf" x="558" y="779.7">Bud_Bud6g00108</text></g>
<g id="L100"><text class="bl" x="539" y="784.6">0.0866</text><rect class="mk" x="539.5" y="784.6" width="2" height="2"/><text class="lf" x="543" y="787.6">Dsu_Dsu1000007g00004</text></g>
<g id="L101"><text class="bl" x="543" y="792.4">0.0064</text><rect class="mk" x="543.5" y="792.4" width="2" height="2"/><text class="lf" x="547" y="795.4">Mmu_Mmu6g01575</text></g>
<g id="L102"><text class="bl" x="539" y="800.3">0.0824</text><rect class="mk" x="539.5" y="800.3" width="2" height="2"/><text class="lf" x="543" y="803.3">Sou_Sou7g00957</text></g>
<g id="L103"><text class="bl" x="531" y="808.2">0.0414</text><rect class="mk" x="531.5" y="808.2" width="2" height="2"/><text class="lf" x="535" y="811.2">Haan_Haan6g00558</text></g>
<g id="L104"><text class="bl" x="573" y="816.1">0.99999</text><rect class="mk" x="573.5" y="816.1" width="2" height="2"/><text class="lf" x="577" y="819.1">Halu_Halu6g00276</text></g>
<g id="L105"><rect class="mk" x="590.5" y="823.9" width="2" height="2"/><text class="lf" x="594" y="826.9">Halu_Halu5g00257</text></g>
<g id="L106"><rect class="mk" x="590.5" y="831.8" width="2" height="2"/><text class="lf" x="594" y="834.8">Halu_Halu5g00583</text></g>
<g id="L107"><text class="bl" x="579" y="839.7">1e-05</text><rect class="mk" x="579.5" y="839.7" width="2" height="2"/><text class="lf" x="583" y="842.7">Halu_Halu6g00377</text></g>
<g id="L108"><text class="bl" x="551" y="847.5">0.99999</text><rect class="mk" x="551.5" y="847.5" width="2" height="2"/><text class="lf" x="555" y="850.5">Haan_Haan6g00657</text></g>
<g id="L109"><text class="bl" x="551" y="855.4">0.0888</text><rect class="mk" x="551.5" y="855.4" width="2" height="2"/><text class="lf" x="555" y="858.4">Amar_Amar1g00244</text></g>
<g id="L110"><text class="bl" x="573" y="863.3">0.99999</text><rect class="mk" x="573.5" y="863.3" width="2" height="2"/><text class="lf" x="577" y="866.3">Amar_Amar00005g00021</text></g>
<g id="L111"><text class="bl" x="566" y="871.1">1e-05</text><rect class="mk" x="566.5" y="871.1" width="2" height="2"/><text class="lf" x="570" y="874.1">Amar_Amar00005g00003</text></g>
<g id="L112"><text class="bl" x="536" y="879">0.103</text><rect class="mk" x="536.5" y="879" width="2" height="2"/><text class="lf" x="540" y="882">Taur_Taur5g00308</text></g>
<g id="L113"><text class="bl" x="528" y="886.9">0.0988</text><rect class="mk" x="528.5" y="886.9" width="2" height="2"/><text class="lf" x="532" y="889.9">Pru_Pru1g00584</text></g>
<g id="L114"><text class="bl" x="541" y="894.8">0.0837</text><rect class="mk" x="541.5" y="894.8" width="2" height="2"/><text class="lf" x="545" y="897.8">Pru_Pru7g00014</text></g>
<g id="L115"><text class="bl" x="558" y="902.6">0.0197</text><rect class="mk" x="558.5" y="902.6" width="2" height="2"/><text class="lf" x="562" y="905.6">Pru_Pru1g01086</text></g>
<g id="L116"><text class="bl" x="558" y="910.5">0.0165</text><rect class="mk" x="558.5" y="910.5" width="2" height="2"/><text class="lf" x="562" y="913.5">Pru_Pru1g00187</text></g>
<g id="L117"><text class="bl" x="513" y="918.4">0.0702</text><rect class="mk" x="513.5" y="918.4" width="2" height="2"/><text class="lf" x="517" y="921.4">Dapi_Dapi6g00484</text></g>
<g id="L118"><text class="bl" x="493" y="926.2">0.899</text><rect class="mk" x="493.5" y="926.2" width="2" height="2"/><text class="lf" x="497" y="929.2">Dapi_Dapi1g00087</text></g>
<g id="L119"><text class="bl" x="516" y="934.1">0.0869</text><rect class="mk" x="516.5" y="934.1" width="2" height="2"/><text class="lf" x="520" y="937.1">Sman_Sman1g01388</text></g>
<g id="L120"><text class="bl" x="511" y="942">0.899</text><rect class="mk" x="511.5" y="942" width="2" height="2"/><text class="lf" x="515" y="945">Sman_Sman1g01437</text></g>
<g id="L121"><text class="bl" x="554" y="949.8">0.102</text><rect class="mk" x="554.5" y="949.8" width="2" height="2"/><text class="lf" x="558" y="952.8">Taur_Taur5g00580</text></g>
<g id="L122"><text class="bl" x="563" y="957.7">0.0855</text><rect class="mk" x="563.5" y="957.7" width="2" height="2"/><text class="lf" x="567" y="960.7">Pru_Pru1g00138</text></g>
<g id="L123"><text class="bl" x="571" y="965.6">0.0788</text><rect class="mk" x="571.5" y="965.6" width="2" height="2"/><text class="lf" x="575" y="968.6">Pru_Pdu6g00614</text></g>
<g id="L124"><text class="bl" x="551" y="973.4">0.0214</text><rect class="mk" x="551.5" y="973.4" width="2" height="2"/><text class="lf" x="555" y="976.4">Pru_Pru1g00828</text></g>
</g>
<g id="scale"><text x="5" y="989" style="font-family:'Liberation Sans',sans-serif;font-size:4.5px;fill:#555">0.05</text></g>
</svg>
